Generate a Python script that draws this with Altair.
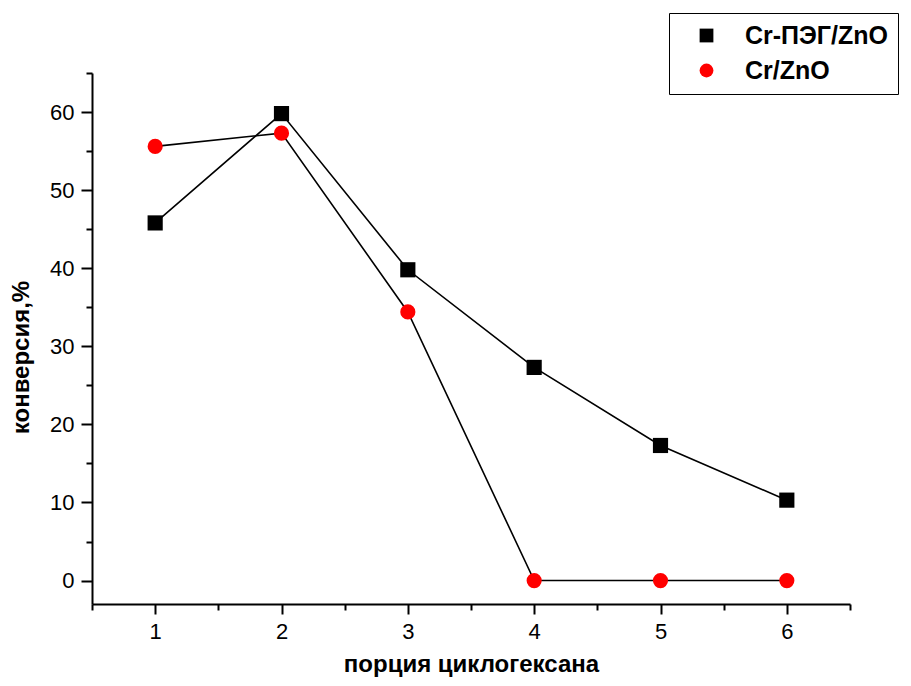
import altair as alt
import pandas as pd

portions = [1, 2, 3, 4, 5, 6]
cr_peg_zno = [45.8, 59.8, 39.8, 27.3, 17.3, 10.3]
cr_zno = [55.6, 57.3, 34.4, 0.0, 0.0, 0.0]
series_names = ["Cr-ПЭГ/ZnO", "Cr/ZnO"]

x_major = [1, 2, 3, 4, 5, 6]
x_minor = [0.5, 1.5, 2.5, 3.5, 4.5, 5.5, 6.5]
y_major = [0, 10, 20, 30, 40, 50, 60]
y_minor = [5, 15, 25, 35, 45, 55, 65]

rows = []
for p, a, b in zip(portions, cr_peg_zno, cr_zno):
    rows.append({"x": p, "y": a, "s": series_names[0]})
    rows.append({"x": p, "y": b, "s": series_names[1]})
df = pd.DataFrame(rows)

FONT = "Arial, Liberation Sans"

xscale = alt.Scale(domain=[0.5, 6.5], nice=False, zero=False)
yscale = alt.Scale(domain=[-3, 65], nice=False, zero=False)

x_axis = alt.Axis(values=x_major, tickSize=10, tickWidth=2, domainWidth=2, domainColor="black",
                  tickColor="black", labelFontSize=22, labelFont=FONT, labelColor="black",
                  labelPadding=7, grid=False, title="порция циклогексана",
                  titleFont=FONT, titleFontSize=24, titleFontWeight="bold", titleColor="black",
                  titlePadding=10)
y_axis = alt.Axis(values=y_major, tickSize=11, tickWidth=2, domainWidth=2, domainColor="black",
                  tickColor="black", labelFontSize=22, labelFont=FONT, labelColor="black",
                  labelPadding=7, grid=False, title="конверсия,%",
                  titleFont=FONT, titleFontSize=24, titleFontWeight="bold", titleColor="black",
                  titlePadding=16, titleY=284)

lines = alt.Chart(df).mark_line(color="black", strokeWidth=1.6).encode(
    x=alt.X("x:Q", scale=xscale, axis=x_axis),
    y=alt.Y("y:Q", scale=yscale, axis=y_axis),
    detail="s:N",
)

points = alt.Chart(df).mark_point(filled=True, opacity=1, size=230).encode(
    x=alt.X("x:Q", scale=xscale, axis=alt.Axis(values=x_minor, tickSize=6, tickWidth=2,
                                                 labels=False, domain=False, grid=False,
                                                 tickColor="black", title=None, orient="bottom")),
    y=alt.Y("y:Q", scale=yscale, axis=alt.Axis(values=y_minor, tickSize=6, tickWidth=2,
                                                 labels=False, domain=False, grid=False,
                                                 tickColor="black", title=None, orient="left")),
    color=alt.Color("s:N", scale=alt.Scale(domain=series_names, range=["black", "#ff0000"]),
                    legend=alt.Legend(title=None, orient="none", legendX=577, legendY=-60,
                                      strokeColor="black", fillColor="white", padding=10,
                                      labelFont=FONT, labelFontSize=25, labelFontWeight="bold",
                                      labelColor="black", symbolSize=190, rowPadding=9,
                                      symbolOffset=15, labelOffset=26, symbolStrokeWidth=0)),
    shape=alt.Shape("s:N", scale=alt.Scale(domain=series_names, range=["square", "circle"])),
)

chart = alt.layer(lines, points).resolve_axis(x="independent", y="independent").properties(
    width=758, height=531,
    autosize=alt.AutoSizeParams(type="none"),
    padding={"left": 84, "top": 65, "right": 53, "bottom": 74},
    background="white",
).configure_view(stroke=None)

chart.save("out.html", embed_options={"renderer": "svg", "actions": False})
